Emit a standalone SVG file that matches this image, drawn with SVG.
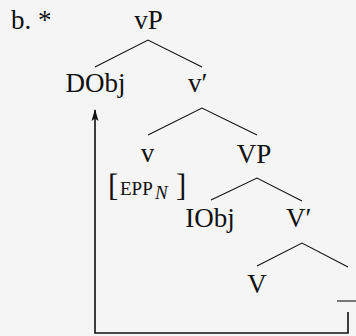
<svg xmlns="http://www.w3.org/2000/svg" width="356" height="336" viewBox="0 0 356 336">
<style>
  text { font-family: "Liberation Serif", "Times New Roman", serif; fill: #111; }
  .lbl { font-size: 27px; }
  .mid { text-anchor: middle; }
  .br { font-size: 31px; }
  .sc { font-size: 19px; }
  .sub { font-size: 19px; font-style: italic; }
  .edge { stroke: #111; stroke-width: 1.1; fill: none; }
  .move { stroke: #111; stroke-width: 1.6; fill: none; }
</style>
<defs>
  <marker id="arr" viewBox="0 0 12 8" refX="11" refY="4" markerWidth="12" markerHeight="8" markerUnits="userSpaceOnUse" orient="auto">
    <path d="M12,4 L0,0.5 L2.5,4 L0,7.5 Z" fill="#111"/>
  </marker>
</defs>
<rect width="356" height="336" fill="#f5f5f5"/>
<text class="lbl" x="11" y="29">b. *</text>
<g id="vP"><text class="lbl mid" x="148.5" y="29">vP</text></g>
<g id="DObj"><text class="lbl mid" x="95.5" y="92">DObj</text></g>
<g id="vbar"><text class="lbl" x="188" y="92">v′</text></g>
<g id="v"><text class="lbl mid" x="147.5" y="162">v</text>
  <text class="br" x="108" y="196">[</text>
  <text class="sc" x="120" y="195">EPP</text>
  <text class="sub" x="155" y="199">N</text>
  <text class="br" x="176" y="196">]</text>
</g>
<g id="VP"><text class="lbl mid" x="254" y="163">VP</text></g>
<g id="IObj"><text class="lbl mid" x="210" y="227">IObj</text></g>
<g id="Vbar"><text class="lbl" x="286" y="227">V′</text></g>
<g id="V"><text class="lbl mid" x="257" y="293">V</text></g>
<g id="trace"><line class="edge" x1="337" y1="301" x2="360" y2="301"/></g>
<g id="connectors">
  <path class="edge" d="M95,67 L148,40 L202,67"/>
  <path class="edge" d="M148,135 L202,108 L257,135"/>
  <path class="edge" d="M211,200 L257,178 L302,201"/>
  <path class="edge" d="M257,266 L302,243 L348,267"/>
  <path class="move" d="M348,312 L348,333 L95,333 L95,110" marker-end="url(#arr)"/>
</g>
</svg>
